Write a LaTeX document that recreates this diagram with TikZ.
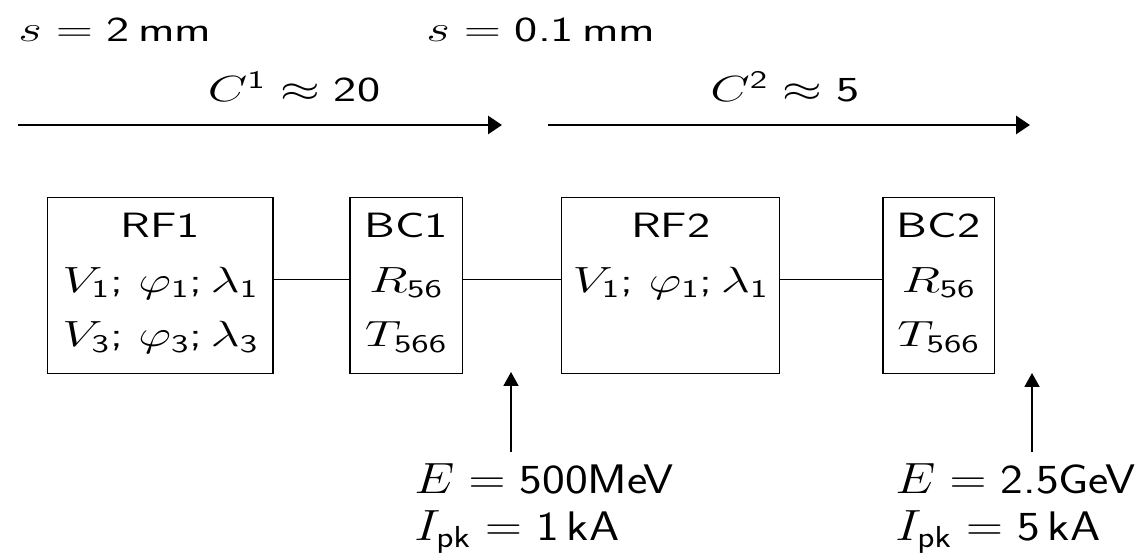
\documentclass[tikz,border=0pt]{standalone}
\usepackage{graphicx}
\usetikzlibrary{positioning,arrows.meta}
\newcommand{\wide}[2][1.4]{\scalebox{#1}[1]{#2}}
\newcommand{\rows}[2]{\begin{tabular}[t]{@{}#1@{}}#2\end{tabular}}

\begin{document}
\begin{tikzpicture}[
    x=0.02cm, y=-0.02cm,
    font=\sffamily\fontsize{20}{31}\selectfont,
    box/.style={draw, line width=0.75pt, inner sep=0pt, text height=0.8cm, text depth=2.72cm},
    lab/.style={inner sep=4pt, font=\sffamily\fontsize{23.5}{27.3}\selectfont},
    flow/.style={-{Triangle[length=0.28cm, width=0.36cm]}, line width=1.7pt},
    probe/.style={-{Triangle[length=0.28cm, width=0.3cm]}, line width=1.1pt},
    link/.style={line width=0.75pt}]
\useasboundingbox (0,0) rectangle (1145,553);
% compression stages
\coordinate (f1a) at (18,125);
\coordinate (f1b) at (502,125);
\coordinate (f2a) at (548,125);
\coordinate (f2b) at (1030,125);
\draw[flow] (f1a) -- (f1b);
\draw[flow] (f2a) -- (f2b);
\node[anchor=base west, inner sep=0pt] (s1) at (18,42) {\wide{$s=\mbox{2\,mm}$}};
\node[anchor=base west, inner sep=0pt] (s2) at (426,42) {\wide{$s=\mbox{0.1\,mm}$}};
\node[anchor=base, inner sep=0pt] (c1) at (294,102) {\wide{$C^{\mathsf{1}}\approx\mbox{20}$}};
\node[anchor=base, inner sep=0pt] (c2) at (785,102) {\wide{$C^{\mathsf{2}}\approx\mbox{5}$}};
% linac sections and chicanes
\node[box, minimum width=4.51cm, anchor=north west] (rf1) at (47,197)
    {\wide{\rows{c}{RF1\\$V_{\mathsf{1}}$; $\varphi_{\mathsf{1}}$;\,$\lambda_{\mathsf{1}}$\\$V_{\mathsf{3}}$; $\varphi_{\mathsf{3}}$;\,$\lambda_{\mathsf{3}}$}}};
\node[box, minimum width=2.25cm, right=1.51cm of rf1] (bc1) {\wide{\rows{c}{BC1\\$R_{\mathsf{56}}$\\$T_{\mathsf{566}}$}}};
\node[box, minimum width=4.36cm, right=1.96cm of bc1] (rf2) {\wide{\rows{c}{RF2\\$V_{\mathsf{1}}$; $\varphi_{\mathsf{1}}$;\,$\lambda_{\mathsf{1}}$}}};
\node[box, minimum width=2.23cm, right=2.04cm of rf2] (bc2) {\wide{\rows{c}{BC2\\$R_{\mathsf{56}}$\\$T_{\mathsf{566}}$}}};
\draw[link] ([yshift=0.12cm]rf1.east) -- ([yshift=0.12cm]bc1.west);
\draw[link] ([yshift=0.12cm]bc1.east) -- ([yshift=0.12cm]rf2.west);
\draw[link] ([yshift=0.12cm]rf2.east) -- ([yshift=0.12cm]bc2.west);
% beam parameters
\node[lab, anchor=base west] (e1) at (407,493) {\wide[1.17]{\rows{l}{$E=\mbox{500MeV}$\\$I_{\mathsf{pk}}=\mbox{1\,kA}$}}};
\node[lab, anchor=base west] (e2) at (888,493) {\wide[1.17]{\rows{l}{$E=\mbox{2.5GeV}$\\$I_{\mathsf{pk}}=\mbox{5\,kA}$}}};
\coordinate (t1) at (511,372);
\coordinate (t2) at (1032,373);
\draw[probe] (e1.north -| t1) -- (t1);
\draw[probe] (e2.north -| t2) -- (t2);
\end{tikzpicture}
\end{document}
